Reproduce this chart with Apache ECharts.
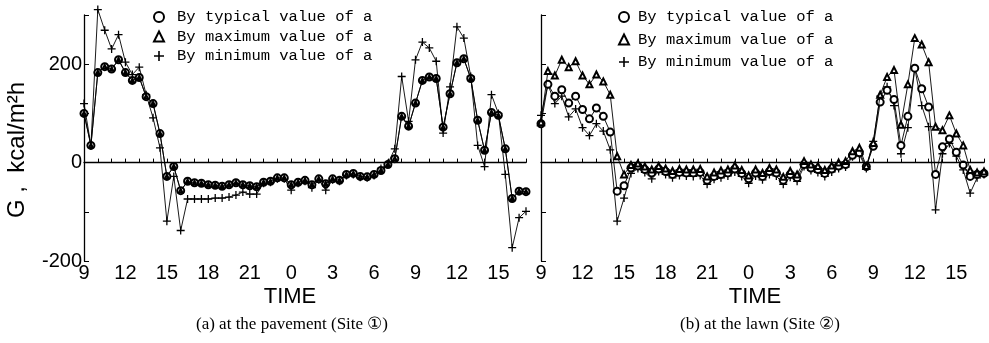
<!DOCTYPE html>
<html>
<head>
<meta charset="utf-8">
<script src="https://cdn.jsdelivr.net/npm/echarts@6/dist/echarts.min.js"></script>
<style>
html,body{margin:0;padding:0;background:#fff;}
#chart{width:989px;height:343px;}
</style>
</head>
<body>
<div id="chart"></div>
<script>
// ---- data (hours from 9h of day 1; 24 = 0h of day 2) ----
const HOURS = [9,9.5,10,10.5,11,11.5,12,12.5,13,13.5,14,14.5,15,15.5,16,16.5,17,17.5,18,18.5,19,19.5,20,20.5,21,21.5,22,22.5,23,23.5,24,24.5,25,25.5,26,26.5,27,27.5,28,28.5,29,29.5,30,30.5,31,31.5,32,32.5,33,33.5,34,34.5,35,35.5,36,36.5,37,37.5,38,38.5,39,39.5,40,40.5,41];

const SERIES_NAMES = ['By typical value of a', 'By maximum value of a', 'By minimum value of a'];

// (a) pavement
const A_TYPICAL = [100,35,183,195,190,209,183,167,173,134,120,59,-28,-8,-57,-38,-41,-42,-45,-46,-48,-45,-41,-45,-47,-49,-40,-38,-31,-31,-45,-40,-36,-45,-33,-43,-33,-36,-24,-22,-28,-29,-24,-16,-4,8,94,74,121,167,174,171,72,140,203,211,171,86,25,102,96,28,-73,-58,-59];
const A_MAX     = [100,35,183,195,190,209,183,167,173,134,120,59,-28,-8,-57,-38,-41,-42,-45,-46,-48,-45,-41,-45,-47,-49,-40,-38,-31,-31,-45,-40,-36,-45,-33,-43,-33,-36,-24,-22,-28,-29,-24,-16,-4,8,94,74,121,167,174,171,72,140,203,211,171,86,25,102,96,28,-73,-58,-59];
const A_MIN     = [120,35,311,269,231,260,204,179,194,138,91,30,-119,-28,-138,-74,-74,-74,-74,-72,-72,-70,-66,-60,-64,-64,-42,-40,-33,-33,-56,-42,-38,-51,-35,-56,-35,-38,-26,-24,-30,-31,-26,-12,-2,28,175,84,209,245,233,206,60,154,276,253,175,35,-8,138,100,-24,-173,-112,-99];

// (b) lawn
const B_TYPICAL = [79,159,135,148,121,135,108,89,111,94,62,-58,-47,-11,-7,-14,-21,-13,-18,-24,-20,-21,-21,-20,-36,-28,-24,-21,-13,-22,-33,-21,-28,-18,-21,-36,-24,-31,-4,-11,-14,-22,-13,-7,-4,15,20,-8,33,123,147,128,35,94,192,150,113,-24,32,48,21,-5,-28,-24,-22];
const B_MAX     = [82,186,177,209,194,206,177,159,179,165,138,13,-24,-5,-2,-8,-14,-7,-12,-17,-13,-14,-14,-13,-28,-20,-16,-14,-6,-15,-26,-14,-21,-11,-14,-29,-17,-24,3,-4,-7,-15,-6,0,3,23,30,-7,40,138,174,188,77,159,253,240,204,73,66,96,59,35,-15,-20,-18];
const B_MIN     = [96,159,120,135,93,109,71,55,79,64,26,-119,-72,-22,-12,-20,-33,-18,-24,-31,-26,-27,-28,-26,-44,-34,-31,-27,-19,-28,-42,-27,-35,-24,-27,-44,-30,-38,-8,-16,-20,-28,-19,-12,-9,12,16,-12,43,135,154,116,18,71,192,116,73,-96,18,39,13,-15,-62,-31,-24];

// tick labels
const X_TICK_HOURS  = [9,12,15,18,21,24,27,30,33,36,39];
const X_TICK_LABELS = ['9','12','15','18','21','0','3','6','9','12','15'];
const Y_TICK_VALUES = [-200,0,200];
const Y_TICK_LABELS = ['-200','0','200'];

const Y_NAME = 'G ,  kcal/m²h';
const X_NAME = 'TIME';
const CAPTIONS = ['(a) at the pavement (Site ①)', '(b) at the lawn (Site ②)'];

// ---- chart ----
const PLUS = 'path://M4.2,0 H5.8 V4.2 H10 V5.8 H5.8 V10 H4.2 V5.8 H0 V4.2 H4.2 Z';
const SANS = 'Liberation Sans, Arial, sans-serif';
const MONO = 'Liberation Mono, DejaVu Sans Mono, monospace';

function pair(arr){ return HOURS.map((h,i)=>[h, arr[i]]); }

function xAxis(gi, showLabels){
  return {
    gridIndex: gi, type: 'value', min: 9, max: 41, interval: 1,
    axisLine: {lineStyle: {color: '#000', width: 1.3}},
    axisTick: {inside: true, length: 4, lineStyle: {color: '#000', width: 1}},
    splitLine: {show: false},
    axisLabel: {
      show: showLabels, margin: 2, color: '#000', fontSize: 20, fontFamily: SANS,
      formatter: v => { const k = X_TICK_HOURS.indexOf(v); return k >= 0 ? X_TICK_LABELS[k] : ''; }
    }
  };
}
function yAxis(gi, showLabels){
  return {
    gridIndex: gi, type: 'value', min: -200, max: 300, interval: 100,
    axisLine: {show: true, lineStyle: {color: '#000', width: 1.3}},
    axisTick: {show: true, inside: true, length: 5, lineStyle: {color: '#000', width: 1}},
    splitLine: {show: false},
    axisLabel: {
      show: showLabels, margin: 2, color: '#000', fontSize: 20, fontFamily: SANS,
      formatter: v => { const k = Y_TICK_VALUES.indexOf(v); return k >= 0 ? Y_TICK_LABELS[k] : ''; }
    }
  };
}
function lineSeries(name, gi, data, symbol, size, z, zero, bw){
  const s = {
    name, type: 'line', xAxisIndex: gi, yAxisIndex: gi, data: pair(data),
    symbol, symbolSize: size, showAllSymbol: true, z, clip: false,
    lineStyle: {color: '#000', width: 0.9},
    itemStyle: {color: '#000', borderColor: '#000', borderWidth: bw},
    emphasis: {disabled: true}, animation: false
  };
  if (zero) {
    s.markLine = {
      silent: true, symbol: ['none','none'], label: {show: false},
      lineStyle: {color: '#000', type: 'solid', width: 1.1},
      data: [{yAxis: 0}], animation: false
    };
  }
  return s;
}

const legendData = [
  {name: SERIES_NAMES[0], icon: 'emptyCircle', itemStyle: {color: '#000', borderColor: '#000', borderWidth: 1.2}},
  {name: SERIES_NAMES[1], icon: 'emptyTriangle', itemStyle: {color: '#000', borderColor: '#000', borderWidth: 1.2}},
  {name: SERIES_NAMES[2], icon: PLUS, itemStyle: {color: '#000', borderWidth: 0}}
];
function legend(left, top, gap, pad){
  return {
    left, top, orient: 'vertical', itemWidth: 10, itemHeight: 10, itemGap: gap,
    selectedMode: false, data: legendData,
    textStyle: {fontFamily: MONO, fontSize: 15.5, color: '#000', lineHeight: 16, padding: [0,0,0,pad]}
  };
}

const chart = echarts.init(document.getElementById('chart'), null, {renderer: 'canvas'});
chart.setOption({
  animation: false,
  backgroundColor: '#fff',
  color: ['#000','#000','#000'],
  grid: [
    {left: 84, top: 15, width: 442, height: 246},
    {left: 541, top: 15, width: 443, height: 246}
  ],
  xAxis: [xAxis(0, true), xAxis(1, true)],
  yAxis: [yAxis(0, true), yAxis(1, false)],
  legend: [legend(148, 4, 3.5, 8), legend(613, 4, 6.5, 4)],
  series: [
    lineSeries(SERIES_NAMES[2], 0, A_MIN, PLUS, 8, 2, false, 0),
    lineSeries(SERIES_NAMES[0], 0, A_TYPICAL, 'emptyCircle', 7, 3, true, 0.9),
    lineSeries(SERIES_NAMES[1], 0, A_MAX, 'emptyTriangle', 3.5, 4, false, 0.6),
    lineSeries(SERIES_NAMES[2], 1, B_MIN, PLUS, 8, 2, false, 0),
    lineSeries(SERIES_NAMES[0], 1, B_TYPICAL, 'emptyCircle', 7, 3, true, 0.9),
    lineSeries(SERIES_NAMES[1], 1, B_MAX, 'emptyTriangle', 6, 4, false, 0.9)
  ],
  graphic: [
    {type: 'text', x: 17, y: 150, rotation: Math.PI/2,
     style: {text: Y_NAME, font: '24px ' + SANS, fill: '#000', align: 'center', verticalAlign: 'middle'}},
    {type: 'text', x: 290, y: 297,
     style: {text: X_NAME, font: '22px ' + SANS, fill: '#000', align: 'center', verticalAlign: 'middle'}},
    {type: 'text', x: 755, y: 297,
     style: {text: X_NAME, font: '22px ' + SANS, fill: '#000', align: 'center', verticalAlign: 'middle'}},
    {type: 'text', x: 292, y: 325,
     style: {text: CAPTIONS[0], font: '17px Liberation Serif, Times New Roman, serif', fill: '#000', align: 'center', verticalAlign: 'middle'}},
    {type: 'text', x: 760, y: 325,
     style: {text: CAPTIONS[1], font: '17px Liberation Serif, Times New Roman, serif', fill: '#000', align: 'center', verticalAlign: 'middle'}}
  ]
});
</script>
</body>
</html>
